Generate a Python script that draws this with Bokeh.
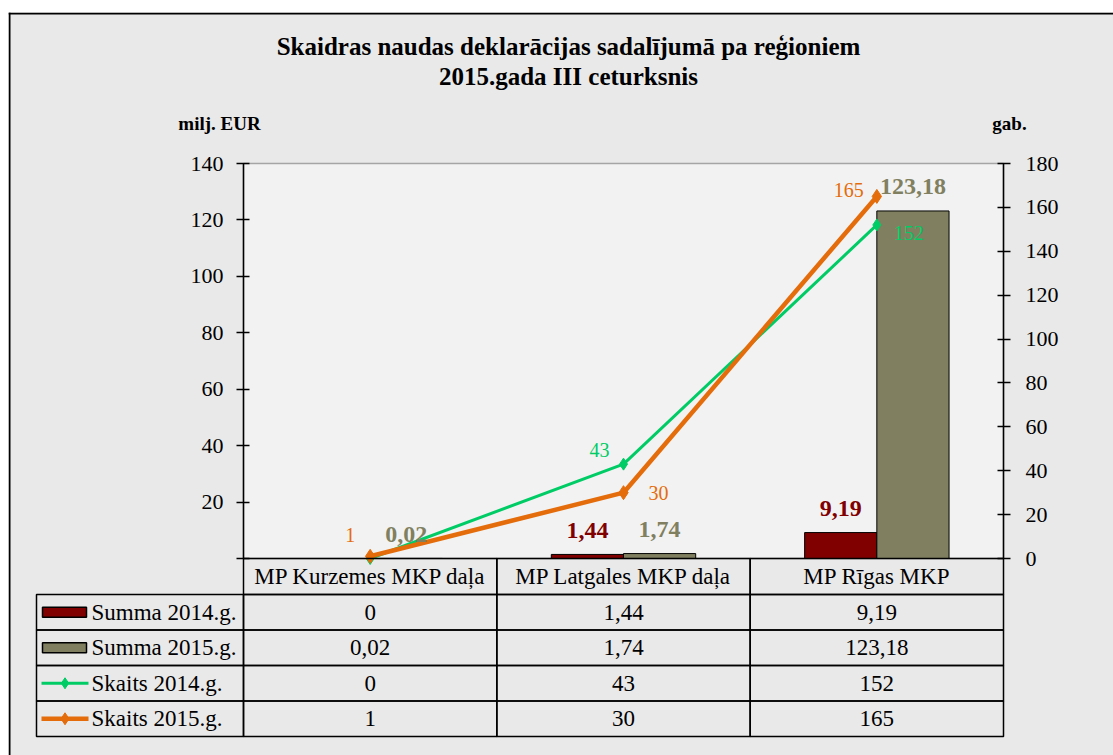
from bokeh.plotting import figure
from bokeh.models import Range1d, LinearAxis, FixedTicker, ColumnDataSource, BoxAnnotation, Span
from bokeh.core.properties import value
from bokeh.transform import dodge
from bokeh.embed import file_html
from bokeh.resources import INLINE

# ---------------- data ----------------
categories = ["MP Kurzemes MKP daļa", "MP Latgales MKP daļa", "MP Rīgas MKP"]
summa_2014 = [0, 1.44, 9.19]
summa_2015 = [0.02, 1.74, 123.18]
skaits_2014 = [0, 43, 152]
skaits_2015 = [1, 30, 165]
series_names = ["Summa 2014.g.", "Summa 2015.g.", "Skaits 2014.g.", "Skaits 2015.g."]
left_ticks = [0, 20, 40, 60, 80, 100, 120, 140]
right_ticks = [0, 20, 40, 60, 80, 100, 120, 140, 160, 180]
title_lines = ["Skaidras naudas deklarācijas sadalījumā pa reģioniem",
               "2015.gada III ceturksnis"]
left_unit = "milj. EUR"
right_unit = "gab."

# ---------------- style ----------------
FONT = "Liberation Serif"
RED = "#800000"
OLIVE = "#808060"
GREEN = "#00cc66"
ORANGE = "#e46c0a"
OUTER_BG = "#e9e9e9"
PLOT_BG = "#f2f2f2"
BAR_W = 0.285

# layout in page pixels (figure drawn at page origin)
FIG_W, FIG_H = 1113, 755
PAGE_L, PAGE_T = 8, 12          # chart frame top-left
PAGE_R, PAGE_B = FIG_W, FIG_H
AX_L, AX_R = 243, 1003
Y0, YTOP = 558, 163
LMAX, RMAX = left_ticks[-1], right_ticks[-1]
NC = len(categories)


def X(px):
    return (px - AX_L) / ((AX_R - AX_L) / NC)


def YL(py):
    return (Y0 - py) / ((Y0 - YTOP) / LMAX)


def YR(py):
    return (Y0 - py) / ((Y0 - YTOP) / RMAX)


def fmt(v):
    return f"{v:g}".replace(".", ",")


p = figure(width=FIG_W, height=FIG_H,
           x_range=Range1d(X(PAGE_L), X(PAGE_R)),
           y_range=Range1d(YL(PAGE_B), YL(PAGE_T)),
           output_backend="svg", toolbar_location=None,
           x_axis_location=None, y_axis_location=None,
           min_border_left=PAGE_L, min_border_right=0,
           min_border_top=PAGE_T, min_border_bottom=0,
           background_fill_color=OUTER_BG, border_fill_color="white",
           outline_line_color=None)
p.grid.visible = False
p.extra_y_ranges = {"cnt": Range1d(YR(PAGE_B), YR(PAGE_T))}

# chart border (left / top)
p.add_layout(Span(location=X(PAGE_L + 1), dimension="height", line_color="black", line_width=2))
p.add_layout(Span(location=YL(PAGE_T + 1), dimension="width", line_color="black", line_width=2))

# plot area
p.add_layout(BoxAnnotation(left=0, right=NC, bottom=0, top=LMAX, fill_color=PLOT_BG,
                           fill_alpha=1, line_color="black", line_width=1.5, level="underlay"))

# axes
def style_axis(ax, standoff):
    ax.axis_line_color = "black"
    ax.axis_line_width = 1.5
    ax.major_tick_line_color = "black"
    ax.major_tick_line_width = 1.5
    ax.major_tick_in = 6
    ax.major_tick_out = 7
    ax.minor_tick_line_color = None
    ax.major_label_text_font = FONT
    ax.major_label_text_font_size = "22px"
    ax.major_label_text_color = "black"
    ax.major_label_standoff = standoff

la = LinearAxis(fixed_location=0, bounds=(0, LMAX), ticker=FixedTicker(ticks=left_ticks),
                major_label_overrides={0: ""})
style_axis(la, 13)
p.add_layout(la, "left")
ra = LinearAxis(y_range_name="cnt", fixed_location=NC, bounds=(0, RMAX),
                ticker=FixedTicker(ticks=right_ticks))
style_axis(ra, 15)
p.add_layout(ra, "right")

# bars
xc = [i + 0.5 for i in range(NC)]
src = ColumnDataSource(dict(xc=xc, s14=summa_2014, s15=summa_2015, k14=skaits_2014, k15=skaits_2015))
p.vbar(x=dodge("xc", -BAR_W / 2, range=p.x_range), top="s14", bottom=0, width=BAR_W, source=src,
       fill_color=RED, line_color="black", line_width=1)
p.vbar(x=dodge("xc", BAR_W / 2, range=p.x_range), top="s15", bottom=0, width=BAR_W, source=src,
       fill_color=OLIVE, line_color="black", line_width=1)

# lines
p.line("xc", "k14", source=src, y_range_name="cnt", line_color=GREEN, line_width=3)
p.scatter("xc", "k14", source=src, y_range_name="cnt", marker="diamond", size=12,
          fill_color=GREEN, line_color=GREEN)
p.line("xc", "k15", source=src, y_range_name="cnt", line_color=ORANGE, line_width=4.5)
p.scatter("xc", "k15", source=src, y_range_name="cnt", marker="diamond", size=14,
          fill_color=ORANGE, line_color=ORANGE)

# bar labels
for vals, off, col in [(summa_2014, -BAR_W / 2, RED), (summa_2015, BAR_W / 2, OLIVE)]:
    idx = [i for i, v in enumerate(vals) if v > 0]
    p.text(x=[xc[i] + off for i in idx], y=[vals[i] for i in idx], text=[fmt(vals[i]) for i in idx],
           text_font=value(FONT), text_font_size="24px", text_font_style="bold",
           text_color=col, text_align="center", text_baseline="middle", y_offset=-24)

# line labels (offsets in screen px)
green_off = [(0, 0), (-24, -14), (32, 8)]
orange_off = [(-20, -21), (35, 0), (-28, -6)]
for vals, offs, col in [(skaits_2014, green_off, GREEN), (skaits_2015, orange_off, ORANGE)]:
    idx = [i for i, v in enumerate(vals) if v > 0]
    p.text(x=[xc[i] for i in idx], y=[vals[i] for i in idx], text=[fmt(vals[i]) for i in idx],
           x_offset=[offs[i][0] for i in idx], y_offset=[offs[i][1] for i in idx],
           y_range_name="cnt", text_font=value(FONT), text_font_size="20px",
           text_color=col, text_align="center", text_baseline="middle")

# ---------------- data table ----------------
row_px = [558, 594, 629.5, 665, 700.5, 736]
rows_y = [YL(v) for v in row_px]
LEG_L = X(36)
TFS = "23px"
# header cells
p.quad(left=list(range(NC)), right=[i + 1 for i in range(NC)], top=[rows_y[0]] * NC,
       bottom=[rows_y[1]] * NC, fill_color=None, line_color="black", line_width=1.5)
p.text(x=xc, y=[(rows_y[0] + rows_y[1]) / 2] * NC, text=categories, text_font=value(FONT),
       text_font_size=TFS, text_color="black", text_align="center", text_baseline="middle")
table_vals = [summa_2014, summa_2015, skaits_2014, skaits_2015]
for r, vals in enumerate(table_vals):
    top, bot = rows_y[r + 1], rows_y[r + 2]
    mid = (top + bot) / 2
    p.quad(left=[LEG_L] + list(range(NC)), right=[0] + [i + 1 for i in range(NC)],
           top=[top] * (NC + 1), bottom=[bot] * (NC + 1), fill_color=None,
           line_color="black", line_width=1.5)
    p.text(x=xc, y=[mid] * NC, text=[fmt(v) for v in vals], text_font=value(FONT),
           text_font_size=TFS, text_color="black", text_align="center", text_baseline="middle")
    p.text(x=[X(91)], y=[mid], text=[series_names[r]], text_font=value(FONT),
           text_font_size=TFS, text_color="black", text_align="left", text_baseline="middle")

# legend keys
key_cols = [RED, OLIVE]
for r, col in enumerate(key_cols):
    mid = (rows_y[r + 1] + rows_y[r + 2]) / 2
    h = 5 / ((Y0 - YTOP) / LMAX)
    p.quad(left=[X(42)], right=[X(86)], top=[mid + h], bottom=[mid - h], fill_color=col,
           line_color="black", line_width=1.5)
for r, (col, lw, sz) in enumerate([(GREEN, 3, 11), (ORANGE, 4.5, 12)]):
    mid = (rows_y[r + 3] + rows_y[r + 4]) / 2
    p.line(x=[X(41), X(88)], y=[mid, mid], line_color=col, line_width=lw)
    p.scatter(x=[X(64.5)], y=[mid], marker="diamond", size=sz, fill_color=col, line_color=col)

# ---------------- titles ----------------
p.text(x=[X(568)] * 2, y=[YL(46), YL(76)], text=title_lines, text_font=value(FONT),
       text_font_size="25px", text_font_style="bold", text_color="black",
       text_align="center", text_baseline="middle")
p.text(x=[X(219), X(1009)], y=[YL(123)] * 2, text=[left_unit, right_unit], text_font=value(FONT),
       text_font_size="19px", text_font_style="bold", text_color="black",
       text_align="center", text_baseline="middle")

open("out.html", "w").write(file_html(p, INLINE))
